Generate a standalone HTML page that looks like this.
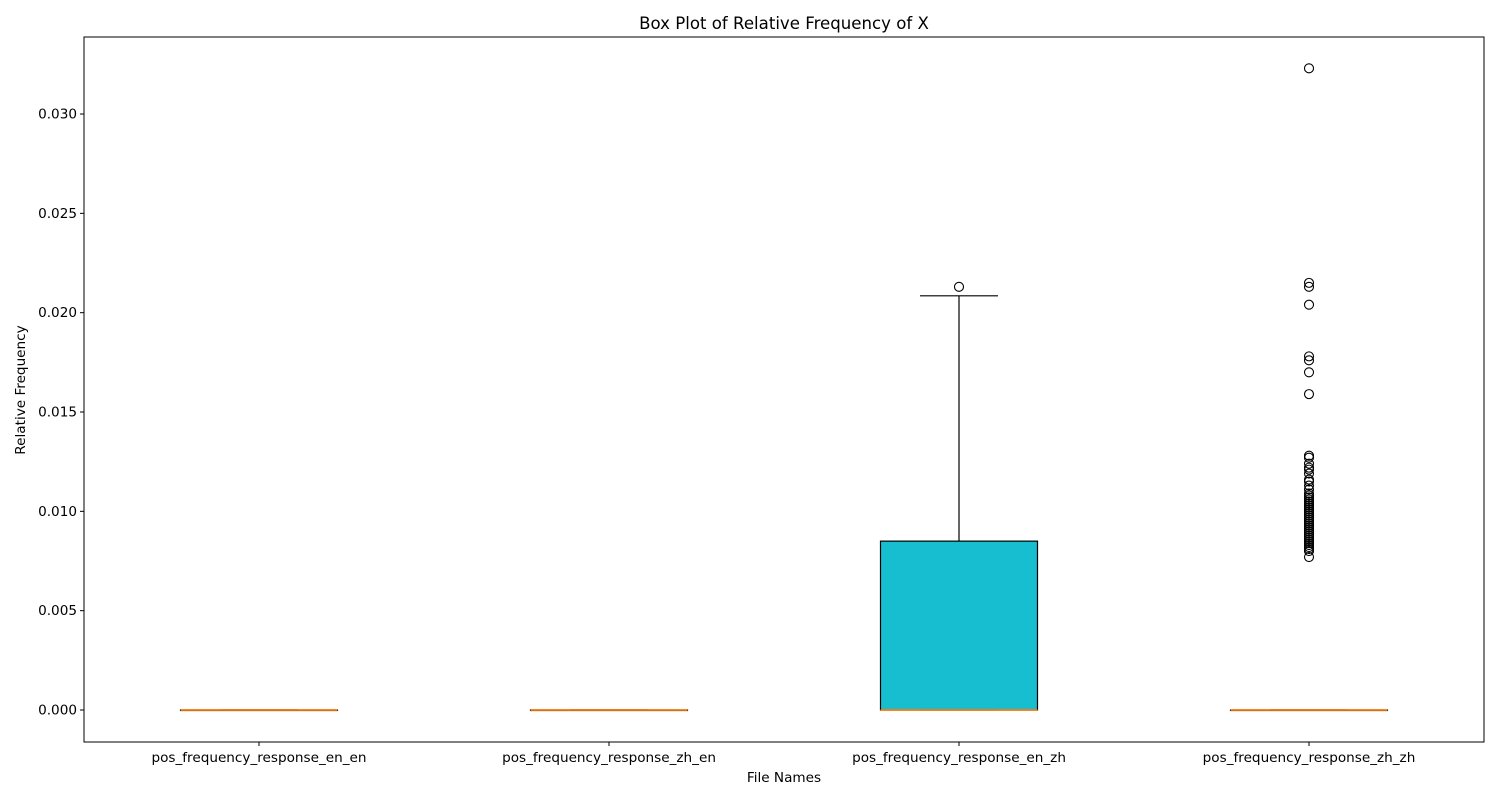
<!DOCTYPE html>
<html><head><meta charset="utf-8"><style>
body{margin:0;background:#fff;font-family:"Liberation Sans","DejaVu Sans",sans-serif;}
text{font-family:"DejaVu Sans","Liberation Sans",sans-serif;}
</style></head><body>
<svg id="chart" width="1500" height="800" xmlns="http://www.w3.org/2000/svg"></svg>
<script>
const categories = ["pos_frequency_response_en_en","pos_frequency_response_zh_en","pos_frequency_response_en_zh","pos_frequency_response_zh_zh"];
const q1s = [0, 0, 0, 0];
const medians = [0, 0, 0, 0];
const q3s = [0, 0, 0.0085, 0];
const whiskLo = [0, 0, 0, 0];
const whiskHi = [0, 0, 0.02085, 0];
const outliers = [[], [], [0.0213], [0.0323,0.0215,0.0213,0.0204,0.0178,0.0176,0.0170,0.0159,0.0128,0.0127,0.0124,0.0122,0.0121,0.0119,0.0116,0.0115,0.0113,0.0111,0.0109,0.0108,0.0107,0.0106,0.0105,0.0104,0.0103,0.0102,0.0101,0.0100,0.0099,0.0098,0.0097,0.0096,0.0095,0.0094,0.0093,0.0092,0.0091,0.0090,0.0089,0.0088,0.0087,0.0086,0.0085,0.0084,0.0083,0.0082,0.0081,0.0080,0.0077]];
const yTicks = [0,0.005,0.010,0.015,0.020,0.025,0.030];
const yTickLabels = ["0.000","0.005","0.010","0.015","0.020","0.025","0.030"];

const svg = document.getElementById('chart');
const NS = "http://www.w3.org/2000/svg";
const L=84,R=1484,T=37,B=742;
function y(v){return 710 - v/0.005*99.33;}
function x(i){return L + (i+0.5)*(R-L)/categories.length;}
function mk(tag, attrs, parent){const e=document.createElementNS(NS,tag);for(const k in attrs)e.setAttribute(k,attrs[k]);(parent||svg).appendChild(e);return e;}

mk('text',{x:784,y:29,'text-anchor':'middle','font-size':16.6,fill:'#000'}).textContent='Box Plot of Relative Frequency of X';
let t=svg.lastChild;



yTicks.forEach((v,i)=>{
  const g=mk('g',{});
  
  
  mk('line',{x1:L-4,x2:L,y1:y(v),y2:y(v),stroke:'#000','stroke-width':1},g);
  mk('text',{x:L-7,y:y(v)+4.5,'text-anchor':'end','font-size':13.6,fill:'#000'},g).textContent=yTickLabels[i];
});

categories.forEach((c,i)=>{
  const cx=x(i), hw=78.5, cw=39;
  const g=mk('g',{});
  
  
  mk('line',{x1:cx,x2:cx,y1:y(q3s[i]),y2:y(whiskHi[i]),stroke:'#000','stroke-width':1.2},g);
  mk('line',{x1:cx,x2:cx,y1:y(q1s[i]),y2:y(whiskLo[i]),stroke:'#000','stroke-width':1.2},g);
  mk('line',{x1:cx-cw,x2:cx+cw,y1:y(whiskHi[i]),y2:y(whiskHi[i]),stroke:'#000','stroke-width':1.2},g);
  mk('line',{x1:cx-cw,x2:cx+cw,y1:y(whiskLo[i]),y2:y(whiskLo[i]),stroke:'#000','stroke-width':1.2},g);
  mk('rect',{x:cx-hw,y:y(q3s[i]),width:2*hw,height:Math.max(0.5,y(q1s[i])-y(q3s[i])),fill:'#17becf',stroke:'#000','stroke-width':1.2},g);
  mk('line',{x1:cx-hw,x2:cx+hw,y1:y(medians[i]),y2:y(medians[i]),stroke:'#ff7f0e','stroke-width':1.8},g);
  outliers[i].forEach(v=>{
    const o=mk('circle',{cx:cx,cy:y(v),r:4.5,fill:'none',stroke:'#000','stroke-width':1.1},g);
    
    
  });
  mk('line',{x1:cx,x2:cx,y1:B,y2:B+4,stroke:'#000','stroke-width':1});
  const lb=mk('text',{x:cx,y:B+20,'text-anchor':'middle','font-size':13.6,fill:'#000'});
  lb.textContent=c;
  
  
});

const fr=mk('rect',{x:L,y:T,width:R-L,height:B-T,fill:'none',stroke:'#000','stroke-width':1});


const xt=mk('text',{x:784,y:782,'text-anchor':'middle','font-size':13.6,fill:'#000'});
xt.textContent='File Names';


const yt=mk('text',{x:0,y:0,'text-anchor':'middle','font-size':13.6,fill:'#000',transform:'translate(25,390) rotate(-90)'});
yt.textContent='Relative Frequency';


</script>
</body></html>
